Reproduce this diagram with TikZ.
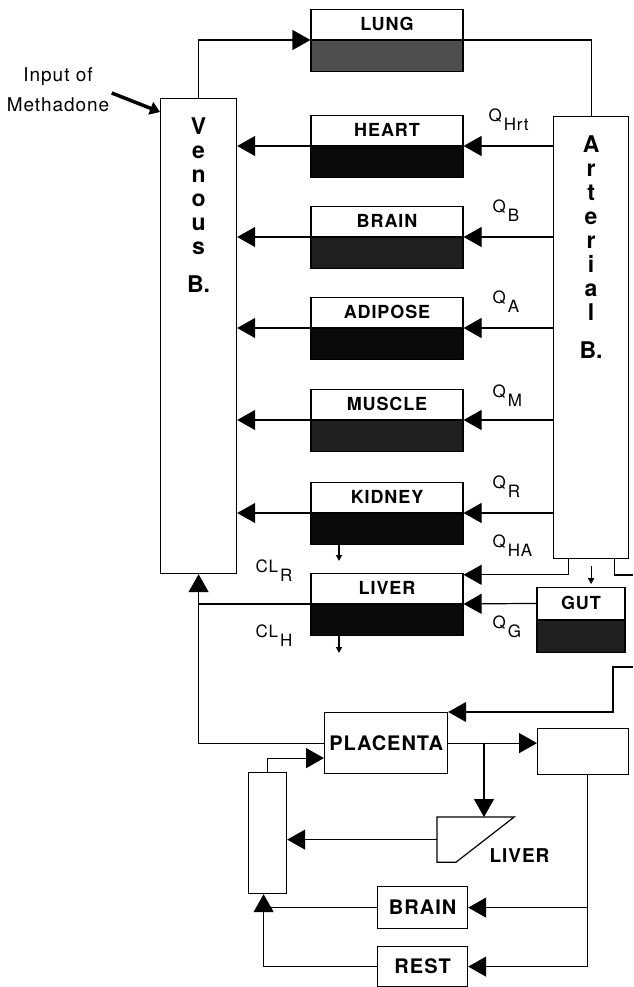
\documentclass[tikz,border=0pt]{standalone}
\usepackage{fontspec}
\setmainfont{TeX Gyre Heros}
\newfontfamily\organfont[LetterSpace=5]{TeX Gyre Heros}
\usepackage{tikz}
\usetikzlibrary{arrows.meta,positioning,calc}
\definecolor{lungshade}{RGB}{78,78,78}
\definecolor{tissueshade}{RGB}{32,32,32}
\definecolor{deepshade}{RGB}{10,10,10}
\newcommand{\flowlab}[2]{#1\hspace{2pt}\raisebox{-9pt}{#2}}

\begin{document}
\begin{tikzpicture}[x=1pt, y=-1pt, line width=1.2pt,
  organ/.style={draw, fill=white, minimum width=152pt, minimum height=30pt, inner sep=0pt, font=\organfont\bfseries\fontsize{18}{18}\selectfont},
  tissue/.style={draw, minimum width=152pt, minimum height=31pt, inner sep=0pt, below=0pt of #1},
  vessel/.style={draw, inner sep=0pt, anchor=north west},
  vesseltext/.style={inner sep=0pt, anchor=north, align=center, font=\bfseries\fontsize{23}{24}\selectfont},
  flowtext/.style={inner sep=0pt, anchor=base west, font=\organfont\fontsize{17}{17}\selectfont},
  fetaltext/.style={font=\organfont\bfseries\fontsize{20}{20}\selectfont},
  bigarrow/.style={-{Triangle[length=18pt,width=20pt]}},
  smallarrow/.style={-{Triangle[length=6pt,width=6pt]}},
  inarrow/.style={line width=3.5pt, -{Triangle[length=10pt,width=13pt]}}]
\useasboundingbox (0,0) rectangle (633,987);

% blood pools
\node[vessel, minimum width=76pt, minimum height=475pt] (ven) at (160,98) {};
\node[vessel, minimum width=75pt, minimum height=442pt] (art) at (553,116) {};
\node[vesseltext] (ventxt) at ([yshift=-19.5pt]ven.north) {V\\e\\n\\o\\u\\s\\[14pt]B.};
\node[vesseltext] (arttxt) at ([yshift=-19.5pt]art.north) {A\\r\\t\\e\\r\\i\\a\\l\\[14pt]B.};
\node[inner sep=0pt, align=center, font=\organfont\fontsize{19}{30}\selectfont] (inp) at (58,90) {Input of\\Methadone};

% maternal tissues
\node[organ, anchor=south] (lung) at (387,40) {LUNG};
\node[tissue=lung, fill=lungshade] (lungl) {};
\node[organ, anchor=south] (heart) at (387,146) {HEART};
\node[tissue=heart, fill=deepshade] (heartl) {};
\node[organ, anchor=south] (brain) at (387,237) {BRAIN};
\node[tissue=brain, fill=tissueshade] (brainl) {};
\node[organ, anchor=south] (adipose) at (387,328) {ADIPOSE};
\node[tissue=adipose, fill=deepshade] (adiposel) {};
\node[organ, anchor=south] (muscle) at (387,420) {MUSCLE};
\node[tissue=muscle, fill=tissueshade] (musclel) {};
\node[organ, anchor=south] (kidney) at (387,513) {KIDNEY};
\node[tissue=kidney, fill=deepshade] (kidneyl) {};
\node[organ, anchor=south] (liver) at (387,604) {LIVER};
\node[tissue=liver, fill=deepshade] (liverl) {};
\node[organ, anchor=south, minimum width=88pt, minimum height=32pt] (gut) at (581,620) {GUT};
\node[tissue=gut, fill=tissueshade, minimum width=88pt, minimum height=32pt] (gutl) {};

% flow and clearance labels
\node[flowtext] (qhrt) at (488,122) {\flowlab{Q}{Hrt}};
\node[flowtext] (qb) at (492,212) {\flowlab{Q}{B}};
\node[flowtext] (qa) at (492,303) {\flowlab{Q}{A}};
\node[flowtext] (qm) at (492,397) {\flowlab{Q}{M}};
\node[flowtext] (qr) at (492,488) {\flowlab{Q}{R}};
\node[flowtext] (qha) at (492,547) {\flowlab{Q}{HA}};
\node[flowtext] (qg) at (492,628) {\flowlab{Q}{G}};
\node[flowtext] (clr) at (255,572) {\flowlab{CL}{R}};
\node[flowtext] (clh) at (255,637) {\flowlab{CL}{H}};

% maternal connections
\draw[inarrow] ([xshift=2pt,yshift=-3pt]inp.east) -- ([yshift=-14pt]ven.north west);
\draw[bigarrow] (ven.north) |- (lung.south west);
\draw (lung.south east) -| (art.north);
\draw[bigarrow] (art.west |- heart.south east) -- (heart.south east);
\draw[bigarrow] (heart.south west) -- (heart.south west -| ven.east);
\draw[bigarrow] (art.west |- brain.south east) -- (brain.south east);
\draw[bigarrow] (brain.south west) -- (brain.south west -| ven.east);
\draw[bigarrow] (art.west |- adipose.south east) -- (adipose.south east);
\draw[bigarrow] (adipose.south west) -- (adipose.south west -| ven.east);
\draw[bigarrow] (art.west |- muscle.south east) -- (muscle.south east);
\draw[bigarrow] (muscle.south west) -- (muscle.south west -| ven.east);
\draw[bigarrow] (art.west |- kidney.south east) -- (kidney.south east);
\draw[bigarrow] (kidney.south west) -- (kidney.south west -| ven.east);
\draw[bigarrow] ([xshift=-23pt]art.south) |- ([yshift=-2pt]liver.north east);
\coordinate (outR) at (633,575);
\draw ([xshift=23pt]art.south) |- (outR);
\draw[smallarrow] ([yshift=-7pt]art.south) -- ([yshift=-25pt]art.south);
\draw[bigarrow] (gut.west) -- (liver.south east);
\draw (liver.south west) -- (liver.south west -| ven.south);
\coordinate (kidout) at (339,561);
\coordinate (livout) at (339,653);
\draw[smallarrow] (kidout |- kidneyl.south) -- (kidout);
\draw[smallarrow] (livout |- liverl.south) -- (livout);

% fetal compartments
\node[vessel, minimum width=123pt, minimum height=61pt, fetaltext] (plac) at (324,712) {PLACENTA};
\node[vessel, minimum width=91pt, minimum height=46pt] (fart) at (537,728) {};
\node[vessel, minimum width=38pt, minimum height=121pt] (fven) at (248,772) {};
\node[vessel, minimum width=90pt, minimum height=42pt, fetaltext] (fbrain) at (377,886) {BRAIN};
\node[vessel, minimum width=90pt, minimum height=40pt, fetaltext] (frest) at (377,946) {REST};
\node[inner sep=0pt, anchor=north west, minimum width=76pt, minimum height=44pt] (fliv) at (437,817) {};
\draw (fliv.north west) -- (fliv.north east) -- ($(fliv.south west)+(19,0)$) -- (fliv.south west) -- cycle;
\node[inner sep=0pt, anchor=base west, font=\organfont\bfseries\fontsize{19}{19}\selectfont] (flivlab) at (489,862) {LIVER};

% fetal connections
\draw[bigarrow] (plac.west) -| (ven.south);
\coordinate (inR) at (633,667);
\draw[bigarrow] (inR) -- ++(-20,0) |- (plac.north east);
\draw[bigarrow] (plac.east) -- (plac.east -| fart.west);
\coordinate (pbr) at (484,742.5);
\draw[bigarrow] (pbr) -- (pbr |- fliv.north);
\draw[bigarrow] (fliv.west) -- (fliv.west -| fven.east);
\draw[bigarrow] (fven.north) |- ([yshift=-15pt]plac.west);
\coordinate (fsp) at ([xshift=4.5pt]fart.south);
\draw[bigarrow] (fsp) |- (frest.east);
\draw[bigarrow] (fsp |- fbrain.east) -- (fbrain.east);
\coordinate (fret) at ([xshift=-4pt]fven.south);
\draw[bigarrow] (frest.west) -| (fret);
\draw (fbrain.west) -- (fbrain.west -| fret);
\end{tikzpicture}
\end{document}
